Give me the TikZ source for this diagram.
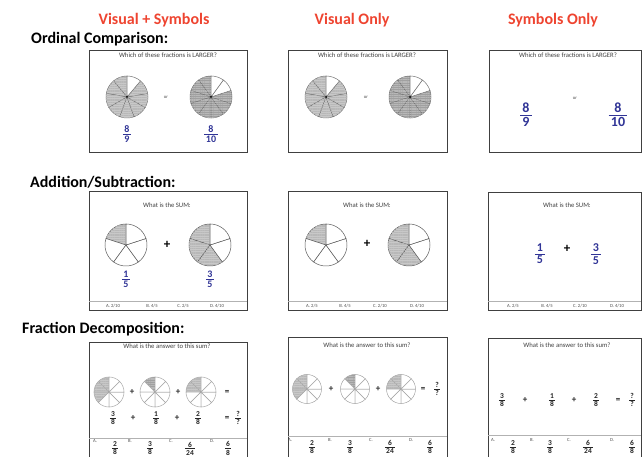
\documentclass[tikz,border=0pt]{standalone}
\usepackage{fontspec}
\setmainfont{Carlito}
\usetikzlibrary{patterns.meta}
\definecolor{hdrred}{RGB}{238,68,48}
\definecolor{fracblue}{RGB}{48,52,150}
\definecolor{pieshade}{RGB}{200,200,200}
\definecolor{piedark}{RGB}{160,160,160}
\newcommand{\frc}[2]{$\frac{\mbox{\rule[-0.12em]{0pt}{0pt}\,#1\,}}{\mbox{\rule{0pt}{0.8em}\,#2\,}}$}
\newcommand{\drawpie}[7]{%
  \foreach \k in {1,...,#4}{
    \pgfmathsetmacro\angA{90+(\k-1)*360/#4}
    \pgfmathsetmacro\angB{90+\k*360/#4}
    \ifnum\k>#5\relax
      \filldraw[fill=white, draw=#7, line width=0.5pt] (#1,#2) -- ++(\angA:#3) arc[start angle=\angA, end angle=\angB, radius=#3] -- cycle;
    \else
      \filldraw[fill=#6, draw=#7, line width=0.5pt, postaction={pattern={Lines[angle=0,distance=1.8pt,line width=0.2pt]}, pattern color=black!28}] (#1,#2) -- ++(\angA:#3) arc[start angle=\angA, end angle=\angB, radius=#3] -- cycle;
    \fi
  }}
\tikzset{
  header/.style={font=\fontsize{16}{18}\selectfont\bfseries, text=hdrred, anchor=base},
  rowlabel/.style={font=\fontsize{16}{18}\selectfont\bfseries, anchor=base west, inner sep=0pt},
  panel/.style={draw=black!75, line width=0.8pt},
  answerline/.style={draw=black!30, line width=0.8pt},
  question/.style={font=\fontsize{6.7}{7}\selectfont, text=black!75},
  tinytext/.style={font=\fontsize{4.7}{5}\selectfont, text=black!70},
  bigfrac/.style={font=\fontsize{14}{16}\selectfont\bfseries, text=fracblue},
  midfrac/.style={font=\fontsize{12}{14}\selectfont\bfseries, text=fracblue},
  smallfrac/.style={font=\fontsize{10}{12}\selectfont\bfseries, text=fracblue},
  sumfrac/.style={font=\fontsize{7.5}{9}\selectfont\bfseries, text=black!85},
  bigsign/.style={font=\fontsize{13}{13}\selectfont\bfseries},
  sign/.style={font=\fontsize{9}{9}\selectfont\bfseries, text=black!85}
}
\begin{document}
\begin{tikzpicture}[x=1pt,y=1pt]
\path[use as bounding box, clip] (0,0) rectangle (643,-457);
\node[header] (hVS) at (154,-25) {Visual + Symbols};
\node[header] (hVO) at (352,-25) {Visual Only};
\node[header] (hSO) at (553,-25) {Symbols Only};
\node[rowlabel] (lOrd) at (31,-44) {Ordinal Comparison:};
\node[rowlabel] (lAdd) at (30,-188) {Addition/Subtraction:};
\node[rowlabel] (lDec) at (22,-334) {Fraction Decomposition:};
\draw[panel] (89,-50) rectangle (247,-152);
\draw[panel] (288,-50) rectangle (447,-152);
\draw[panel] (489,-50) rectangle (641,-152);
\draw[panel] (89,-191) rectangle (247,-310);
\draw[answerline] (89,-301) -- (247,-301);
\draw[panel] (288,-191) rectangle (447,-310);
\draw[answerline] (288,-301) -- (447,-301);
\draw[panel] (488,-192) rectangle (641,-310);
\draw[answerline] (488,-301) -- (641,-301);
\draw[panel] (89,-342) rectangle (247,-470);
\draw[answerline] (89,-438) -- (247,-438);
\draw[panel] (288,-337) rectangle (447,-470);
\draw[answerline] (288,-436) -- (447,-436);
\draw[panel] (488,-338) rectangle (641,-470);
\draw[answerline] (488,-435) -- (641,-435);
\node[question] (q11) at (168,-55) {Which of these fractions is LARGER?};
\drawpie{127}{-97}{21}{9}{8}{pieshade}{black!55}
\drawpie{211}{-97}{21}{10}{8}{piedark}{black!55}
\fill (127,-97) circle (1);
\fill (211,-97) circle (1);
\node[tinytext] (or11) at (166,-97) {or};
\node[smallfrac] (f11a) at (127,-134) {\frc{8}{9}};
\node[smallfrac] (f11b) at (211,-134) {\frc{8}{10}};
\node[question] (q12) at (367,-55) {Which of these fractions is LARGER?};
\drawpie{326}{-97}{21}{9}{8}{pieshade}{black!55}
\drawpie{410}{-97}{21}{10}{8}{piedark}{black!55}
\fill (326,-97) circle (1);
\fill (410,-97) circle (1);
\node[tinytext] (or12) at (366,-97) {or};
\node[question] (q13) at (568,-55) {Which of these fractions is LARGER?};
\node[tinytext] (or13) at (575,-98) {or};
\node[bigfrac] (f13a) at (526,-115) {\frc{8}{9}};
\node[bigfrac] (f13b) at (618,-115) {\frc{8}{10}};
\node[question] (q21) at (167,-205) {What is the SUM:};
\drawpie{126}{-245}{21}{5}{1}{pieshade}{black!65}
\drawpie{210}{-245}{21}{5}{3}{pieshade}{black!65}
\node[bigsign] (p21) at (167,-245) {+};
\node[smallfrac] (f21a) at (126,-279) {\frc{1}{5}};
\node[smallfrac] (f21b) at (210,-279) {\frc{3}{5}};
\node[tinytext] (a21) at (113,-306) {A. 2/10};
\node[tinytext] (b21) at (152,-306) {B. 4/5};
\node[tinytext] (c21) at (183,-306) {C. 2/5};
\node[tinytext] (d21) at (217,-306) {D. 4/10};
\node[question] (q22) at (367,-205) {What is the SUM:};
\drawpie{326}{-245}{21}{5}{1}{pieshade}{black!65}
\drawpie{409}{-245}{21}{5}{3}{pieshade}{black!65}
\node[bigsign] (p22) at (367,-244) {+};
\node[tinytext] (a22) at (312,-306) {A. 2/5};
\node[tinytext] (b22) at (345,-306) {B. 4/5};
\node[tinytext] (c22) at (380,-306) {C. 2/10};
\node[tinytext] (d22) at (417,-306) {D. 4/10};
\node[question] (q23) at (567,-205) {What is the SUM:};
\node[midfrac] (f23a) at (540,-254) {\frc{1}{5}};
\node[bigsign] (p23) at (567,-249) {+};
\node[midfrac] (f23b) at (596,-254) {\frc{3}{5}};
\node[tinytext] (a23) at (513,-306) {A. 2/5};
\node[tinytext] (b23) at (547,-306) {B. 4/5};
\node[tinytext] (c23) at (580,-306) {C. 2/10};
\node[tinytext] (d23) at (617,-306) {D. 4/10};
\node[question] (q31) at (167,-346) {What is the answer to this sum?};
\drawpie{109}{-392}{15}{8}{3}{pieshade}{black!35}
\drawpie{155}{-392}{15}{8}{1}{piedark}{black!35}
\drawpie{201}{-392}{15}{8}{2}{pieshade}{black!35}
\node[sign] (p31a) at (132,-392) {+};
\node[sign] (p31b) at (178,-392) {+};
\node[sign] (e31a) at (227,-392) {=};
\node[sumfrac] (s31a) at (113,-418) {\frc{3}{8}};
\node[sign] (p31c) at (133,-418) {+};
\node[sumfrac] (s31b) at (156,-418) {\frc{1}{8}};
\node[sign] (p31d) at (177,-418) {+};
\node[sumfrac] (s31c) at (198,-418) {\frc{2}{8}};
\node[sign] (e31b) at (227,-418) {=};
\node[sumfrac] (s31d) at (238,-418) {\frc{?}{?}};
\node[tinytext] (a31) at (95,-441) {A.};
\node[sumfrac] (fa31) at (115,-448.5) {\frc{2}{8}};
\node[tinytext] (b31) at (130,-441) {B.};
\node[sumfrac] (fb31) at (150,-448.5) {\frc{3}{8}};
\node[tinytext] (c31) at (171,-441) {C.};
\node[sumfrac] (fc31) at (190,-448.5) {\frc{6}{24}};
\node[tinytext] (d31) at (212,-441) {D.};
\node[sumfrac] (fd31) at (228,-448.5) {\frc{6}{8}};
\node[question] (q32) at (367,-345) {What is the answer to this sum?};
\drawpie{307}{-389}{14.5}{8}{3}{pieshade}{black!35}
\drawpie{355}{-389}{14.5}{8}{1}{piedark}{black!35}
\drawpie{401}{-389}{14.5}{8}{2}{pieshade}{black!35}
\node[sign] (p32a) at (331,-389) {+};
\node[sign] (p32b) at (378,-389) {+};
\node[sign] (e32) at (423,-389) {=};
\node[sumfrac] (s32) at (437,-389) {\frc{?}{?}};
\node[tinytext] (a32) at (290,-440) {A.};
\node[sumfrac] (fa32) at (312,-447) {\frc{2}{8}};
\node[tinytext] (b32) at (330,-440) {B.};
\node[sumfrac] (fb32) at (350,-447) {\frc{3}{8}};
\node[tinytext] (c32) at (371,-440) {C.};
\node[sumfrac] (fc32) at (390,-447) {\frc{6}{24}};
\node[tinytext] (d32) at (411,-440) {D.};
\node[sumfrac] (fd32) at (430,-447) {\frc{6}{8}};
\node[question] (q33) at (567,-345) {What is the answer to this sum?};
\node[sumfrac] (s33a) at (502,-400) {\frc{3}{8}};
\node[sign] (p33a) at (525,-400) {+};
\node[sumfrac] (s33b) at (552,-400) {\frc{1}{8}};
\node[sign] (p33b) at (574,-400) {+};
\node[sumfrac] (s33c) at (596,-400) {\frc{2}{8}};
\node[sign] (e33) at (618,-400) {=};
\node[sumfrac] (s33d) at (632,-400) {\frc{?}{?}};
\node[tinytext] (a33) at (493,-440) {A.};
\node[sumfrac] (fa33) at (513,-447) {\frc{2}{8}};
\node[tinytext] (b33) at (532,-440) {B.};
\node[sumfrac] (fb33) at (550,-447) {\frc{3}{8}};
\node[tinytext] (c33) at (569,-440) {C.};
\node[sumfrac] (fc33) at (588,-447) {\frc{6}{24}};
\node[tinytext] (d33) at (612,-440) {D.};
\node[sumfrac] (fd33) at (632,-447) {\frc{6}{8}};
\end{tikzpicture}
\end{document}
